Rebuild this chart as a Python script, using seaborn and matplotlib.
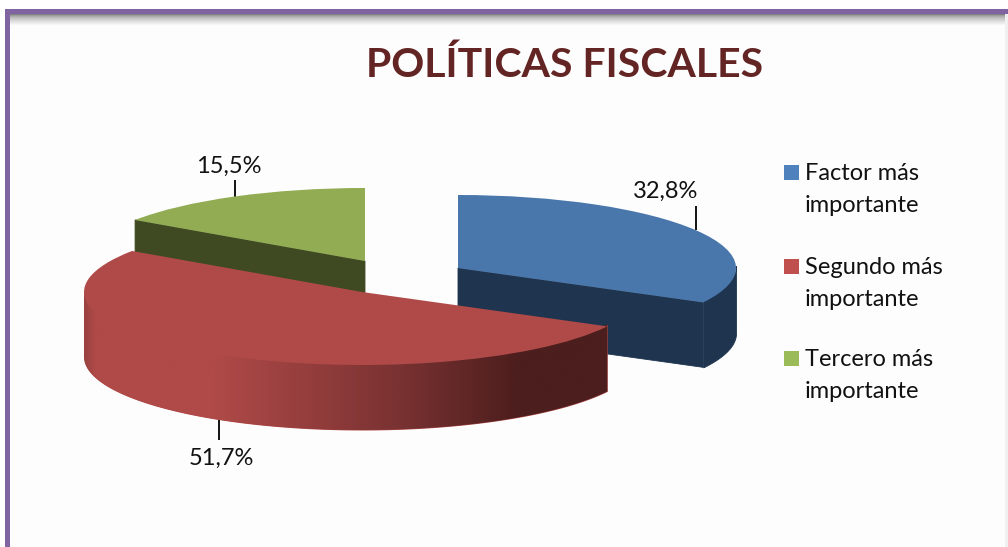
import numpy as np
import matplotlib
matplotlib.use("Agg")
import matplotlib.pyplot as plt
from matplotlib.colors import LinearSegmentedColormap
from matplotlib.patches import Rectangle
import seaborn as sns

# ---- data ----
categories = ["Factor más\nimportante", "Segundo más\nimportante", "Tercero más\nimportante"]
shares = [32.8, 51.7, 15.5]
title = "POLÍTICAS FISCALES"

# ---- style ----
top_colors = ["#4977AC", "#AF4A48", "#91AC52"]
side_colors = ["#1F344F", "#AF4A48", "#3F4A22"]
legend_colors = ["#4F81BD", "#C0504D", "#9BBB59"]
FONT = "Lato"
W, H = 1008, 547
RX, RY = 278.0, 73.0         # ellipse radii in pixels
DEPTH = 65 / RY
ORIGIN = (365.0, 292.0)      # pixel position of data (0, 0)

sns.set_theme(style="white")
plt.rcParams["font.family"] = [FONT, "DejaVu Sans"]

fig = plt.figure(figsize=(W / 100, H / 100), dpi=100, facecolor="white")
ax = fig.add_axes([0, 0, 1, 1])
ax.set_zorder(3)


def dx(px):
    return (px - ORIGIN[0]) / RX


def dy(py):
    return (ORIGIN[1] - py) / RY


def fx(px):
    return px / W


def fy(py):
    return 1 - py / H


# ---- frame ----
fig.patches.append(Rectangle((fx(10), 0), fx(1008) - fx(10), fy(14), transform=fig.transFigure,
                             fc="#FDFDFD", ec="none", zorder=-5))
for i in range(12):
    g = 0.50 + 0.49 * (i / 11) ** 0.6
    fig.patches.append(Rectangle((fx(10), fy(15 + i)), 1, 1 / H, transform=fig.transFigure,
                                 fc=(g, g, g), ec="none", zorder=-4))
fig.patches.append(Rectangle((fx(1005), 0), 3 / W, fy(14), transform=fig.transFigure,
                             fc="#F0F0F0", ec="none", zorder=-3))
fig.patches.append(Rectangle((fx(5), fy(14)), 1, 5 / H, transform=fig.transFigure,
                             fc="#8064A2", ec="none", zorder=-2))
fig.patches.append(Rectangle((fx(5), 0), 5 / W, fy(9), transform=fig.transFigure,
                             fc="#8064A2", ec="none", zorder=-2))

ax.patch.set_alpha(0)

# ---- pie, slice by slice so each can sit on its own apex ----
apexes = {0: (dx(458), dy(268)), 1: (dx(362), dy(292)), 2: (0.0, dy(261))}
side_cut = {0: "theta1", 2: "theta2"}
layers = {0: 2, 2: 3, 1: 4}

for idx in (0, 2, 1):
    z = layers[idx]
    cx, cy = apexes[idx]
    wedges, texts = ax.pie(shares, colors=top_colors, startangle=90, counterclock=False,
                           center=(cx, cy), radius=1, wedgeprops={"linewidth": 0})
    for t in texts:
        t.remove()
    for j, w in enumerate(wedges):
        if j != idx:
            w.remove()
    w = wedges[idx]
    w.set_zorder(z + 0.5)

    # cut face of the slice, where it faces the viewer
    if idx in side_cut:
        a = np.deg2rad(getattr(w, side_cut[idx]))
        ex, ey = cx + np.cos(a), cy + np.sin(a)
        ax.fill([cx, ex, ex, cx], [cy, ey, ey - DEPTH, cy - DEPTH],
                facecolor=side_colors[idx], edgecolor=side_colors[idx], lw=0.6, zorder=z)

    # outer rim on the front half of the ellipse
    lo = max(w.theta1, -180)
    hi = min(w.theta2, 0)
    if hi > lo:
        t = np.deg2rad(np.linspace(lo, hi, 200))
        xs = cx + np.cos(t)
        ys = cy + np.sin(t)
        order = np.argsort(xs)
        rim = ax.fill_between(xs[order], ys[order] + 0.03, ys[order] - DEPTH,
                              facecolor=side_colors[idx], edgecolor=side_colors[idx],
                              lw=0.6 if idx != 1 else 0, zorder=z)
        if idx == 1:
            cmap = LinearSegmentedColormap.from_list(
                "rim",
                [(0.0, "#9A4240"), (0.02, "#AF4A48"), (0.25, "#AF4A48"),
                 (0.60, "#7A3232"), (0.83, "#4C1E1D"), (1.0, "#4C1E1D")],
            )
            im = ax.imshow(np.linspace(0, 1, 512)[None, :], cmap=cmap, aspect="auto",
                           extent=(xs.min(), xs.max(), -2, 1), zorder=z + 0.1)
            im.set_clip_path(rim.get_paths()[0], ax.transData)

ax.set_aspect("auto")
ax.set_xlim(dx(0), dx(W))
ax.set_ylim(dy(H), dy(0))
ax.axis("off")

# ---- leader lines and value labels ----
leaders = [(696, 206, 230), (219, 419, 440), (235, 180, 197)]
label_pos = [(666, 191), (221, 458), (229, 166)]
for v, (lx, y0, y1), (tx, ty) in zip(shares, leaders, label_pos):
    ax.plot([dx(lx), dx(lx)], [dy(y0), dy(y1)], color="black", lw=1.3, solid_capstyle="butt", zorder=1.5)
    fig.text(fx(tx), fy(ty), f"{v:.1f}%".replace(".", ","), ha="center", va="center",
             fontsize=17, color="#111111", zorder=6)

# ---- title ----
fig.text(fx(565), fy(65), title, ha="center", va="center", fontsize=29.5, fontweight="bold",
         color="#632523", zorder=6)

# ---- legend ----
legend_y = [173, 267, 359]
for name, col, y in zip(categories, legend_colors, legend_y):
    fig.patches.append(Rectangle((fx(784), fy(y + 7)), 15 / W, 15 / H, transform=fig.transFigure,
                                 fc=col, ec="none", zorder=6))
    line1, line2 = name.split("\n")
    fig.text(fx(805), fy(y), line1, ha="left", va="center", fontsize=17, color="#111111", zorder=6)
    fig.text(fx(805), fy(y + 32), line2, ha="left", va="center", fontsize=17, color="#111111", zorder=6)

fig.savefig("out.png", dpi=100)
